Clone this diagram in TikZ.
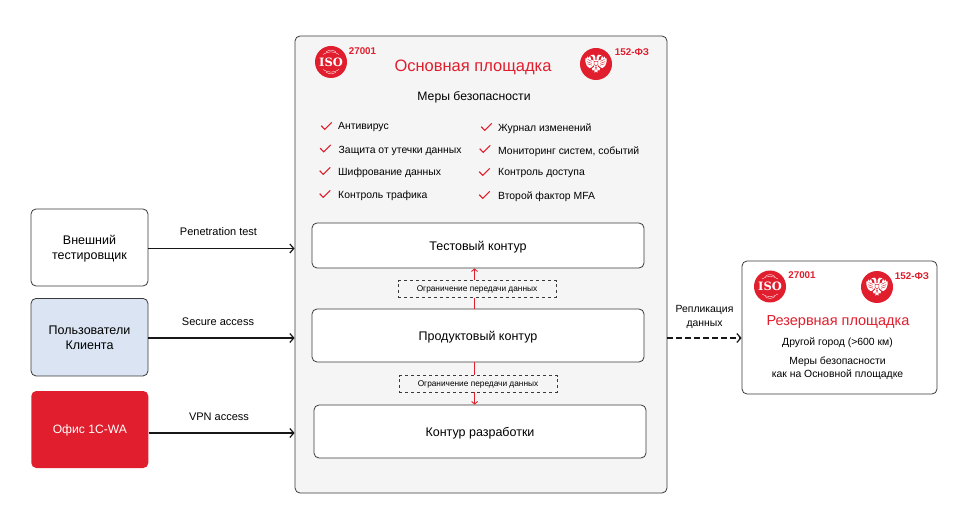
\documentclass[tikz,border=0pt]{standalone}
\usepackage{fontspec}
\setmainfont{Liberation Sans}
\newfontfamily\logofont{DejaVu Serif}
\usepackage{xcolor}
\usetikzlibrary{arrows.meta,positioning,calc}
\definecolor{brandred}{HTML}{E01E2D}
\definecolor{strokegray}{HTML}{3A3A3A}
\definecolor{sitegray}{HTML}{F5F5F5}
\definecolor{userblue}{HTML}{DAE4F3}

\tikzset{
  isologo/.pic={
    \fill[brandred] (0,0) circle (16);
    \node[text=white, font=\logofont\bfseries\fontsize{11.5}{12}\selectfont, inner sep=0pt] (-txt) at (0,0.3) {ISO};
    \foreach \yy in {-1,1} {
      \draw[white, line width=0.35pt, yscale=\yy] (-8,-7.5) .. controls (-3,-11) and (3,-11) .. (8,-7.5);
      \draw[white, line width=0.35pt, yscale=\yy] (-5,-10) .. controls (-2,-12.5) and (2,-12.5) .. (5,-10);
    }
  },
  eaglelogo/.pic={
    \fill[brandred] (0,0) circle (16);
    \foreach \ss in {1,-1} {
      \begin{scope}[xscale=\ss]
        \fill[white] (2,-3.5) -- (4.6,-4) -- (6,-8) -- (7.4,-6) -- (8.6,-7.5) -- (9.4,-5.4) -- (10.6,-5.6) -- (10.6,-2.4) -- (10,-0.4) -- (9.2,1.6) -- (7.8,3) -- (6.2,4.2) -- (4.4,3.2) -- (2,1) -- cycle;
        \draw[brandred, line width=0.45pt] (4.4,-2.6) -- (8.4,-4.6) (4.4,-0.6) -- (9.2,-2.4) (4.2,1.2) -- (8.6,-0.2);
        \fill[white] (0.6,-7) .. controls (1,-9.4) and (3,-10) .. (4.2,-9) -- (5.6,-8.4) -- (4,-7.8) -- (3,-6.8) -- (2.4,-3.5) -- (0.6,-3.5) -- cycle;
        \fill[white] (1,2) -- (4.2,4.6) -- (3,6.8) -- (1.8,5.2) -- (1.3,8.8) -- (0,7.4) -- cycle;
      \end{scope}
    }
    \fill[white] (-2.4,-4) rectangle (2.4,3);
    \draw[brandred, line width=0.5pt] (-1.8,-2.6) -- (1.8,-2.6) -- (1.8,0.6) -- (0,2.2) -- (-1.8,0.6) -- cycle;
  },
  box/.style={draw=strokegray, rounded corners=5pt, align=center, inner sep=2pt, line width=0.8pt, text depth=0pt, font=\fontsize{12.5}{15}\selectfont},
  zone/.style={box, fill=white, minimum width=332pt},
  limitbox/.style={draw=strokegray, dashed, line width=0.7pt, fill=sitegray, minimum width=158pt, minimum height=16.5pt, inner sep=0pt, text depth=0pt, font=\fontsize{8.3}{10}\selectfont},
  lbl/.style={inner sep=0pt, align=center, font=\fontsize{11}{13}\selectfont},
  item/.style={inner sep=0pt, anchor=west, font=\fontsize{10.4}{12}\selectfont},
  redtxt/.style={inner sep=0pt, text=brandred},
  stamp/.style={redtxt, font=\bfseries\fontsize{9.8}{11}\selectfont},
  arr/.style={-{Straight Barb[length=4pt,width=9pt]}, line width=1.2pt, strokegray!40!black},
  redarr/.style={brandred, line width=0.9pt},
  chk/.style={brandred, line width=1.1pt}
}

\begin{document}
\begin{tikzpicture}[x=1pt, y=-1pt]
\useasboundingbox (0,0) rectangle (960,526);

\node[box, fill=white, minimum width=117pt, minimum height=77pt] (tester) at (89.5,247.5) {Внешний\\тестировщик};
\node[box, fill=userblue, minimum width=117pt, minimum height=77.5pt] (users) at (89.5,337.2) {Пользователи\\Клиента};
\node[box, draw=none, fill=brandred, text=white, minimum width=117pt, minimum height=77pt] (office) at (89.8,429.5) {\fontsize{12.1}{14}\selectfont Офис 1С-WA};

\node[box, fill=sitegray, minimum width=372pt, minimum height=457pt] (main) at (481,264.5) {};

\pic (isoa) at (331,62) {isologo};
\pic (eaglea) at (596,64) {eaglelogo};
\node[stamp] (stampisoa) at (362.5,51) {27001};
\node[stamp] (stampfza) at (632,52.5) {152-ФЗ};
\node[redtxt, font=\fontsize{16.5}{20}\selectfont] (maintitle) at (473,67.5) {Основная площадка};
\node[inner sep=0pt, font=\fontsize{12.2}{15}\selectfont] (measures) at (474,97.5) {Меры безопасности};

\foreach \px/\py/\cx/\cy/\txt [count=\n] in {
  338/127.5/326.5/126/Антивирус,
  338.5/150.5/325.5/148.5/Защита от утечки данных,
  338/172.5/325/171/Шифрование данных,
  338/195.5/325/194/Контроль трафика,
  498/128.5/486.5/127/Журнал изменений,
  498/151.5/485/149/{Мониторинг систем, событий},
  498/173.5/484.5/172/Контроль доступа,
  498/197/484.5/195/Второй фактор MFA} {
  \node[item] (item\n) at (\px,\py) {\txt};
  \draw[chk] (\cx-5.3,\cy-0.3) -- (\cx-1.8,\cy+3.3) -- (\cx+5.3,\cy-3.6);
}

\node[zone, minimum height=45pt] (test) at (478,245.5) {Тестовый контур};
\node[zone, minimum height=53pt] (prod) at (478,335.5) {Продуктовый контур};
\node[zone, minimum height=53pt] (dev) at (480,431.5) {Контур разработки};
\node[limitbox] (limita) at (477,289) {Ограничение передачи данных};
\node[limitbox] (limitb) at (478,383.8) {Ограничение передачи данных};

\coordinate (linka) at (474.5,0);
\coordinate (linkb) at (474.6,0);
\draw[redarr] (prod.north -| linka) -- (limita.south -| linka);
\draw[redarr, -{Straight Barb[length=2.5pt,width=6pt]}] (limita.north -| linka) -- (test.south -| linka);
\draw[redarr] (prod.south -| linkb) -- (limitb.north -| linkb);
\draw[redarr, -{Straight Barb[length=2.5pt,width=6pt]}] (limitb.south -| linkb) -- (dev.north -| linkb);

\node[box, fill=white, minimum width=195pt, minimum height=133pt] (reserve) at (839.5,327.5) {};
\pic (isob) at (770,286.5) {isologo};
\pic (eagleb) at (877,287) {eaglelogo};
\node[stamp] (stampisob) at (802,275.5) {27001};
\node[stamp] (stampfzb) at (912,276.5) {152-ФЗ};
\node[redtxt, font=\fontsize{14.5}{17}\selectfont] (restitle) at (838,322) {Резервная площадка};
\node[lbl, font=\fontsize{10.4}{12}\selectfont] (rescity) at (837.5,343) {Другой город (>600 км)};
\node[lbl, font=\fontsize{10.4}{13}\selectfont] (resmeas) at (837.5,368) {Меры безопасности\\как на Основной площадке};

\coordinate (rowa) at (0,248.5);
\coordinate (rowb) at (0,338);
\coordinate (rowc) at (0,433);
\draw[arr] (tester.east |- rowa) -- (main.west |- rowa);
\draw[arr] (users.east |- rowb) -- (main.west |- rowb);
\draw[arr] (office.east |- rowc) -- (main.west |- rowc);
\draw[arr, dash pattern=on 5.5pt off 3.5pt] (main.east |- rowb) -- (reserve.west |- rowb);

\node[lbl] (penlbl) at (218.5,232) {Penetration test};
\node[lbl] (seclbl) at (218,321.5) {Secure access};
\node[lbl] (vpnlbl) at (219,416.5) {VPN access};
\node[lbl, font=\fontsize{10.4}{14}\selectfont] (replbl) at (704.5,317) {Репликация\\данных};
\end{tikzpicture}
\end{document}
